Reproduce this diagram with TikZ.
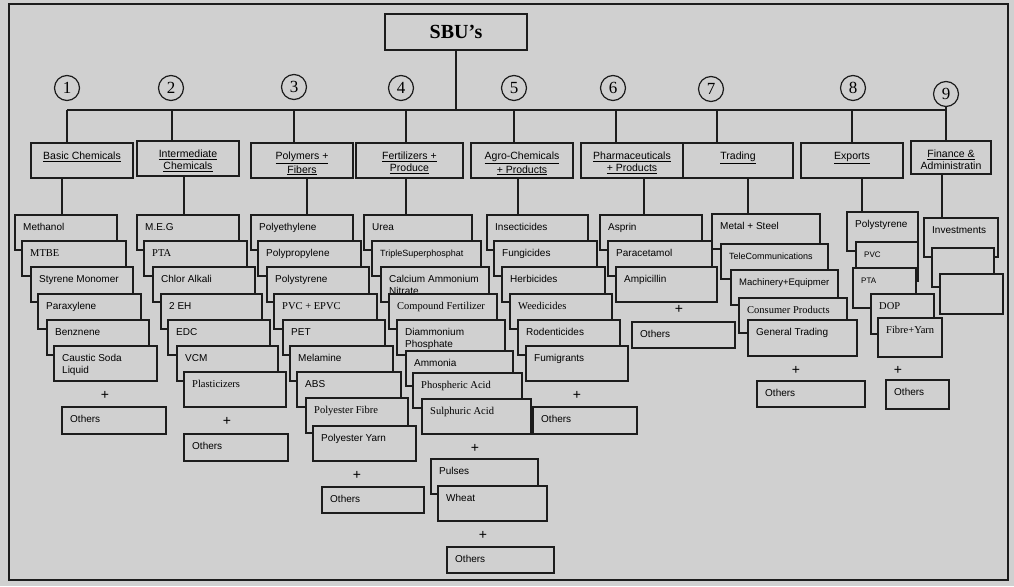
\documentclass[tikz,border=0pt]{standalone}
\usepackage{fontspec}
\setmainfont{Liberation Sans}
\newfontfamily\tmsfam{Liberation Serif}
\definecolor{bg}{RGB}{208,208,208}
\definecolor{lc}{RGB}{28,28,28}
\newcommand\nl{\\\strut}
\tikzset{
  conn/.style={draw=lc, line width=1.3pt},
  itembox/.style={draw=lc, fill=bg, line width=1.2pt, anchor=north west, inner sep=0pt, outer sep=0pt, rectangle},
  itext/.style={anchor=north west, inner sep=0pt, align=left, text=black, font=\fontsize{10}{12}\selectfont},
  tmsfont/.style={font=\fontsize{10.5}{12}\selectfont\tmsfam},
  ctext/.style={anchor=north, inner sep=0pt, align=center, text=black, font=\fontsize{10.5}{12}\selectfont},
  plus/.style={font=\fontsize{14}{14}\selectfont, inner sep=0pt, text=black},
  numc/.style={circle, draw=lc, line width=1.2pt, minimum size=25pt, inner sep=0pt, font=\fontsize{17}{17}\selectfont\tmsfam},
}
\newcommand\ibox[7][]{%
  \node[itembox, minimum width={#5-#3}, minimum height={#6-#4}] (#2) at (#3,#4) {};
  \node[itext,#1] (#2t) at ([xshift=8pt,yshift=-7pt]#2.north west) {\strut #7};
}
\newcommand\bbox[5]{%
  \node[itembox, minimum width={#4-#2}, minimum height={#5-#3}] (#1) at (#2,#3) {};
}
\newcommand\cbox[6]{%
  \node[itembox, minimum width={#4-#2}, minimum height={#5-#3}] (#1) at (#2,#3) {};
  \node[ctext] (#1t) at ([yshift=-8pt]#1.north) {\strut #6};
}
\begin{document}
\begin{tikzpicture}[x=1pt,y=-1pt]
\fill[bg] (0,0) rectangle (1014,586);
\useasboundingbox (0,0) rectangle (1014,586);
\draw[lc, line width=2.5pt] (9,4) rectangle (1008,580);

% top node
\node[itembox, minimum width=142, minimum height=36] (sbu) at (385,14) {};
\node[font=\fontsize{20}{20}\selectfont\tmsfam\bfseries, inner sep=0pt] (sbut) at (sbu.center) {SBU’s};

% number circles
\node[numc] (n1) at (67,88) {1};
\node[numc] (n2) at (171,88) {2};
\node[numc] (n3) at (294,87) {3};
\node[numc] (n4) at (401,88) {4};
\node[numc] (n5) at (514,88) {5};
\node[numc] (n6) at (613,88) {6};
\node[numc] (n7) at (711,89) {7};
\node[numc] (n8) at (853,88) {8};
\node[numc] (n9) at (946,94) {9};

% bus coordinates
\coordinate (bus1) at (67,110);
\coordinate (bus2) at (172,110);
\coordinate (bus3) at (294,110);
\coordinate (bus4) at (406,110);
\coordinate (bus5) at (514,110);
\coordinate (bus6) at (616,110);
\coordinate (bus7) at (717,110);
\coordinate (bus8) at (852,110);
\coordinate (bus9) at (946,110);
% lower drop x
\coordinate (lx1) at (62,0);
\coordinate (lx2) at (184,0);
\coordinate (lx3) at (307,0);
\coordinate (lx4) at (406,0);
\coordinate (lx5) at (518,0);
\coordinate (lx6) at (644,0);
\coordinate (lx7) at (748,0);
\coordinate (lx8) at (862,0);
\coordinate (lx9) at (942,0);

% category boxes
\cbox{k1}{31}{143}{133}{178}{\underline{Basic Chemicals}}
\cbox{k2}{137}{141}{239}{176}{\underline{Intermediate}\nl\underline{Chemicals}}
\cbox{k3}{251}{143}{353}{178}{\underline{Polymers +}\nl\underline{Fibers}}
\cbox{k4}{356}{143}{463}{178}{\underline{Fertilizers +}\nl\underline{Produce}}
\cbox{k5}{471}{143}{573}{178}{\underline{Agro-Chemicals}\nl\underline{+ Products}}
\cbox{k6}{581}{143}{683}{178}{\underline{Pharmaceuticals}\nl\underline{+ Products}}
\cbox{k7}{683}{143}{793}{178}{\underline{Trading}}
\cbox{k8}{801}{143}{903}{178}{\underline{Exports}}
\cbox{k9}{911}{141}{991}{174}{\underline{Finance \&}\nl Administratin}

% col 1
\ibox{a1}{15}{215}{117}{250}{Methanol}
\ibox[tmsfont]{a2}{22}{241}{126}{276}{MTBE}
\ibox{a3}{31}{267}{133}{302}{Styrene Monomer}
\ibox{a4}{38}{294}{141}{329}{Paraxylene}
\ibox{a5}{47}{320}{149}{355}{Benznene}
\ibox{a6}{54}{346}{157}{381}{Caustic Soda\nl Liquid}
\node[plus] (ap) at (105,395) {+};
\ibox{a7}{62}{407}{166}{434}{Others}

% col 2
\ibox{b1}{137}{215}{239}{250}{M.E.G}
\ibox[tmsfont]{b2}{144}{241}{247}{276}{PTA}
\ibox{b3}{153}{267}{255}{302}{Chlor Alkali}
\ibox{b4}{161}{294}{262}{329}{2 EH}
\ibox{b5}{168}{320}{270}{355}{EDC}
\ibox{b6}{177}{346}{278}{381}{VCM}
\ibox[tmsfont]{b7}{184}{372}{286}{407}{Plasticizers}
\node[plus] (bp) at (227,421) {+};
\ibox{b8}{184}{434}{288}{461}{Others}

% col 3
\ibox{c1}{251}{215}{353}{250}{Polyethylene}
\ibox{c2}{258}{241}{361}{276}{Polypropylene}
\ibox{c3}{267}{267}{369}{302}{Polystyrene}
\ibox[tmsfont]{c4}{274}{294}{377}{329}{PVC + EPVC}
\ibox{c5}{283}{320}{385}{355}{PET}
\ibox{c6}{290}{346}{393}{381}{Melamine}
\ibox{c7}{297}{372}{401}{407}{ABS}
\ibox[tmsfont]{c8}{306}{398}{408}{433}{Polyester Fibre}
\ibox{c9}{313}{426}{416}{461}{Polyester Yarn}
\node[plus] (cp) at (357,475) {+};
\ibox{c10}{322}{487}{424}{513}{Others}

% col 4
\ibox{d1}{364}{215}{472}{250}{Urea}
\ibox[font=\fontsize{9}{12}\selectfont]{d2}{372}{241}{481}{276}{TripleSuperphosphat}
\ibox{d3}{381}{267}{489}{302}{Calcium Ammonium\nl Nitrate}
\ibox[tmsfont]{d4}{389}{294}{497}{329}{Compound Fertilizer}
\ibox{d5}{397}{320}{505}{355}{Diammonium\nl Phosphate}
\ibox{d6}{406}{351}{513}{386}{Ammonia}
\ibox[tmsfont]{d7}{413}{373}{522}{408}{Phospheric Acid}
\ibox[tmsfont]{d8}{422}{399}{531}{434}{Sulphuric Acid}
\node[plus] (dp1) at (475,448) {+};
\ibox{d9}{431}{459}{538}{494}{Pulses}
\ibox{d10}{438}{486}{547}{521}{Wheat}
\node[plus] (dp2) at (483,535) {+};
\ibox{d11}{447}{547}{554}{573}{Others}

% col 5
\ibox{e1}{487}{215}{588}{250}{Insecticides}
\ibox{e2}{494}{241}{597}{276}{Fungicides}
\ibox{e3}{502}{267}{605}{302}{Herbicides}
\ibox[tmsfont]{e4}{510}{294}{612}{329}{Weedicides}
\ibox{e5}{518}{320}{620}{355}{Rodenticides}
\ibox{e6}{526}{346}{628}{381}{Fumigrants}
\node[plus] (ep) at (577,395) {+};
\ibox{e7}{533}{407}{637}{434}{Others}

% col 6
\ibox{f1}{600}{215}{702}{250}{Asprin}
\ibox{f2}{608}{241}{712}{276}{Paracetamol}
\ibox{f3}{616}{267}{717}{302}{Ampicillin}
\node[plus] (fp) at (679,309) {+};
\ibox{f4}{632}{322}{735}{348}{Others}

% col 7
\ibox{g1}{712}{214}{820}{249}{Metal + Steel}
\ibox[font=\fontsize{9}{12}\selectfont]{g2}{721}{244}{828}{279}{TeleCommunications}
\ibox[font=\fontsize{9.5}{12}\selectfont]{g3}{731}{270}{838}{305}{Machinery+Equipmer}
\ibox[tmsfont]{g4}{739}{298}{847}{333}{Consumer Products}
\ibox{g5}{748}{320}{857}{356}{General Trading}
\node[plus] (gp) at (796,370) {+};
\ibox{g6}{757}{381}{865}{407}{Others}

% col 8
\ibox{h1}{847}{212}{918}{251}{Polystyrene}
\ibox[font=\fontsize{8}{12}\selectfont]{h2}{856}{242}{918}{281}{PVC}
\ibox[font=\fontsize{8}{12}\selectfont]{h3}{853}{268}{916}{308}{PTA}
\ibox[tmsfont]{h4}{871}{294}{934}{334}{DOP}
\ibox[tmsfont]{h5}{878}{318}{942}{357}{Fibre+Yarn}
\node[plus] (hp) at (898,370) {+};
\ibox{h6}{886}{380}{949}{409}{Others}

% col 9
\ibox{i1}{924}{218}{998}{257}{Investments}
\bbox{i2}{932}{248}{994}{287}
\bbox{i3}{940}{274}{1003}{314}

% connectors
\draw[conn] (sbu.south) -- (sbu.south |- bus1);
\draw[conn] (bus1) -- (bus9);
\foreach \i in {1,...,8} {
  \draw[conn] (bus\i) -- (bus\i |- k\i.north);
}
\draw[conn] (n9.south) -- (n9.south |- k9.north);
\draw[conn] (lx1 |- k1.south) -- (lx1 |- a1.north);
\draw[conn] (lx2 |- k2.south) -- (lx2 |- b1.north);
\draw[conn] (lx3 |- k3.south) -- (lx3 |- c1.north);
\draw[conn] (lx4 |- k4.south) -- (lx4 |- d1.north);
\draw[conn] (lx5 |- k5.south) -- (lx5 |- e1.north);
\draw[conn] (lx6 |- k6.south) -- (lx6 |- f1.north);
\draw[conn] (lx7 |- k7.south) -- (lx7 |- g1.north);
\draw[conn] (lx8 |- k8.south) -- (lx8 |- h1.north);
\draw[conn] (lx9 |- k9.south) -- (lx9 |- i1.north);
\end{tikzpicture}
\end{document}
